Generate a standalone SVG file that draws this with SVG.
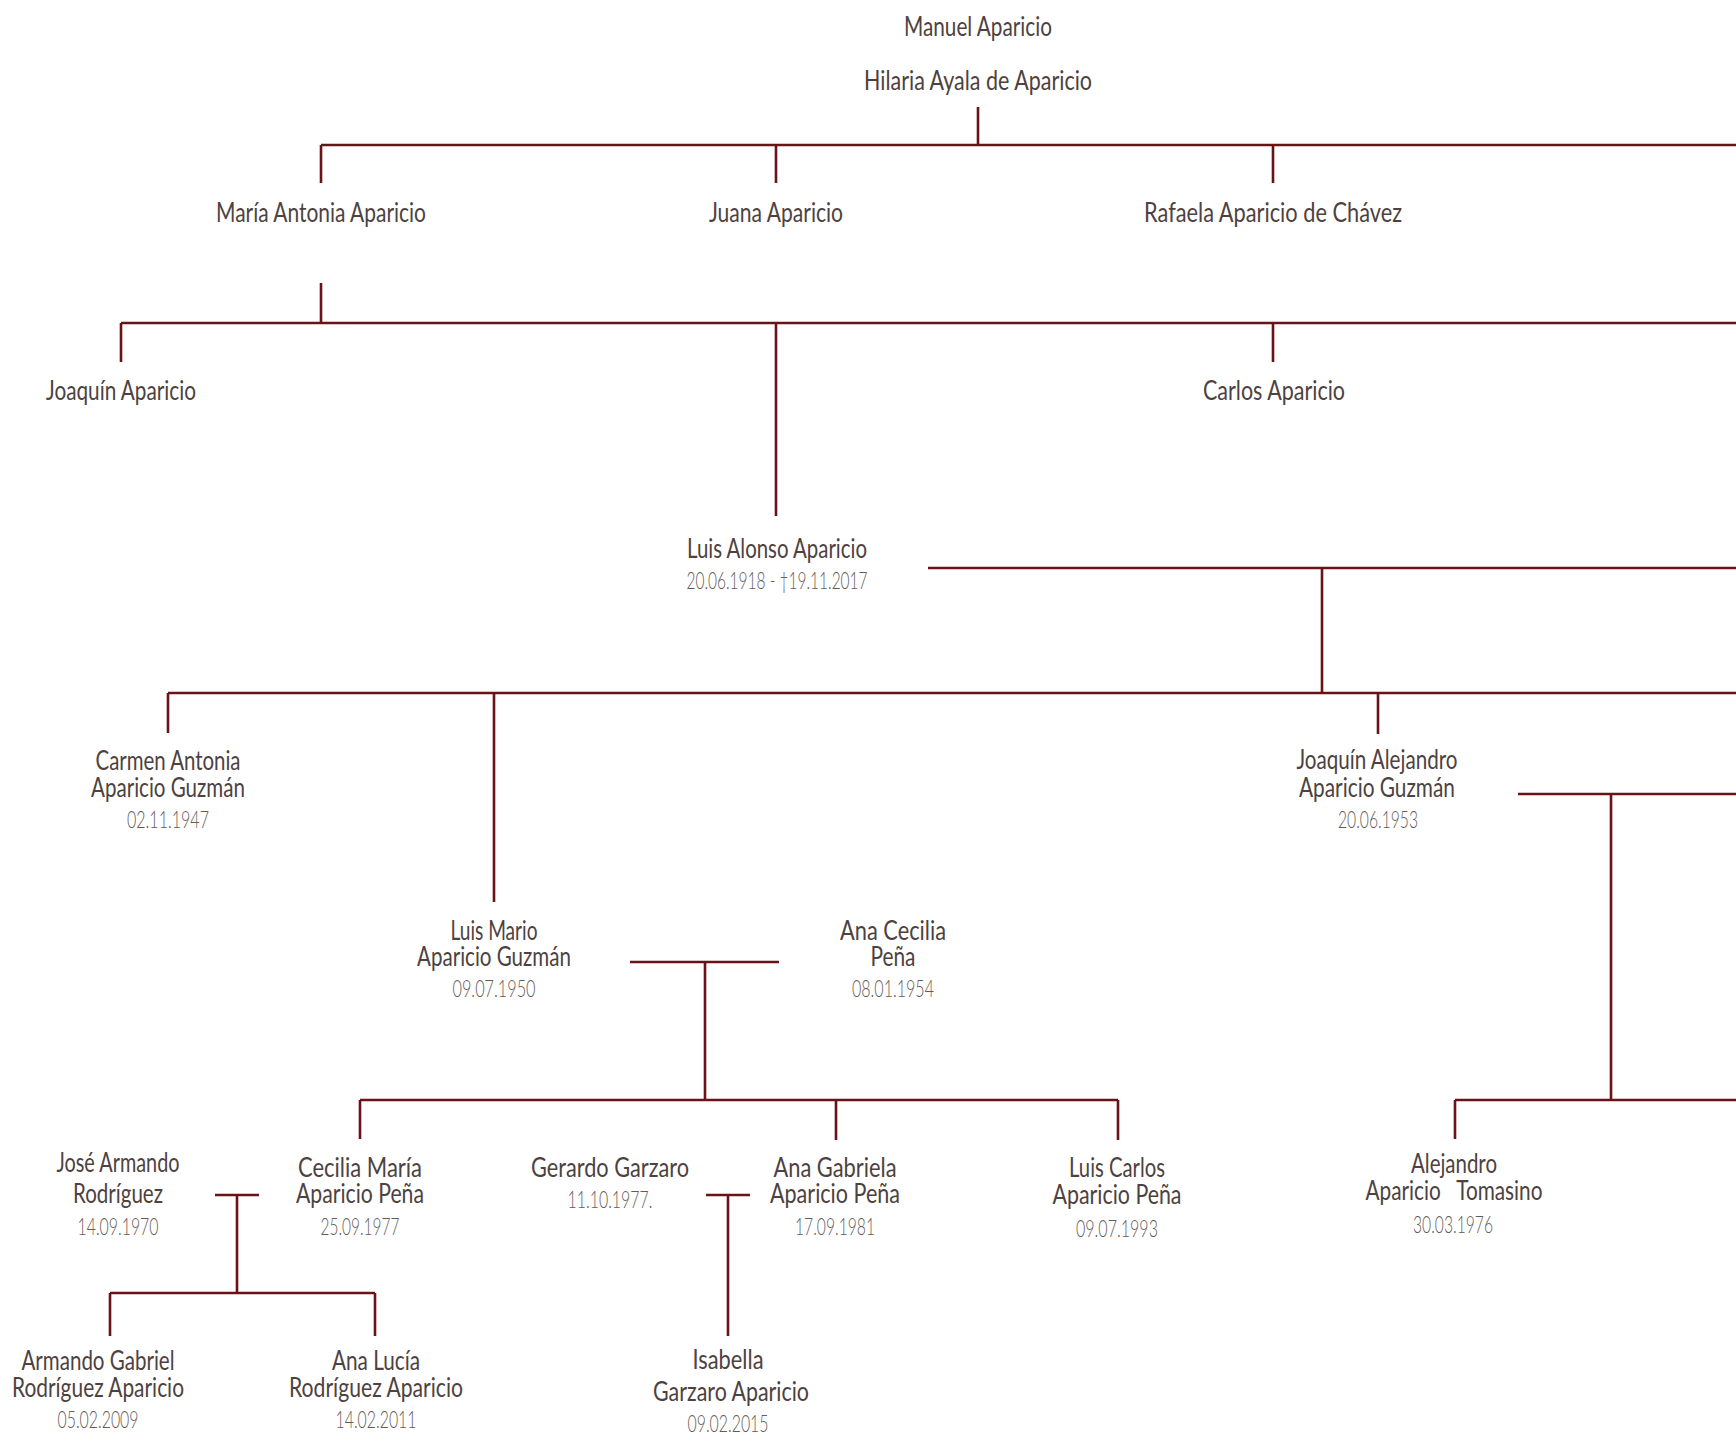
<svg xmlns="http://www.w3.org/2000/svg" width="1736" height="1437" viewBox="0 0 1736 1437">
<style>
.n{font-family:Lato,"Liberation Sans",sans-serif;font-size:26px;fill:#4d4240;text-anchor:middle}
.d{font-family:Lato,"Liberation Sans",sans-serif;font-weight:300;font-size:23px;fill:#665a57;text-anchor:middle}
.c{stroke:#6b1217;stroke-width:2.6;fill:none;stroke-linecap:butt}
</style>
<rect width="1736" height="1437" fill="#ffffff"/>
<g id="connectors" class="c">
<path d="M978 107V145M321 145H1736M321 145V183M776 145V183M1273 145V183"/>
<path d="M321 283V323M121 323H1736M121 323V362M776 323V516M1273 323V362"/>
<path d="M928 568H1736M1322 568V693M168 693H1736M168 693V733M494 693V902M1378 693V734"/>
<path d="M1518 794H1736M1611 794V1100M1455 1100H1736M1455 1100V1139"/>
<path d="M630 962H779M705 962V1100M360 1100H1118M360 1100V1139M836 1100V1140M1118 1100V1140"/>
<path d="M215 1195H259M237 1195V1293M110 1293H375M110 1293V1336M375 1293V1336"/>
<path d="M706 1195H750M728 1195V1336"/>
</g>
<g id="manuel"><text class="n" x="978" y="36" textLength="148" lengthAdjust="spacingAndGlyphs">Manuel Aparicio</text></g>
<g id="hilaria"><text class="n" x="978" y="90" textLength="228" lengthAdjust="spacingAndGlyphs">Hilaria Ayala de Aparicio</text></g>
<g id="maria-antonia"><text class="n" x="321" y="222" textLength="210" lengthAdjust="spacingAndGlyphs">María Antonia Aparicio</text></g>
<g id="juana"><text class="n" x="776" y="222" textLength="134" lengthAdjust="spacingAndGlyphs">Juana Aparicio</text></g>
<g id="rafaela"><text class="n" x="1273" y="222" textLength="258" lengthAdjust="spacingAndGlyphs">Rafaela Aparicio de Chávez</text></g>
<g id="joaquin"><text class="n" x="121" y="400" textLength="150" lengthAdjust="spacingAndGlyphs">Joaquín Aparicio</text></g>
<g id="carlos"><text class="n" x="1274" y="400" textLength="142" lengthAdjust="spacingAndGlyphs">Carlos Aparicio</text></g>
<g id="luis-alonso">
<text class="n" x="777" y="558" textLength="180" lengthAdjust="spacingAndGlyphs">Luis Alonso Aparicio</text>
<text class="d" x="777" y="589" textLength="181" lengthAdjust="spacingAndGlyphs">20.06.1918 - †19.11.2017</text>
</g>
<g id="carmen">
<text class="n" x="168" y="770" textLength="145" lengthAdjust="spacingAndGlyphs">Carmen Antonia</text>
<text class="n" x="168" y="797" textLength="154" lengthAdjust="spacingAndGlyphs">Aparicio Guzmán</text>
<text class="d" x="168" y="828" textLength="82" lengthAdjust="spacingAndGlyphs">02.11.1947</text>
</g>
<g id="joaquin-alejandro">
<text class="n" x="1377" y="769" textLength="161" lengthAdjust="spacingAndGlyphs">Joaquín Alejandro</text>
<text class="n" x="1377" y="797" textLength="156" lengthAdjust="spacingAndGlyphs">Aparicio Guzmán</text>
<text class="d" x="1378" y="828" textLength="80" lengthAdjust="spacingAndGlyphs">20.06.1953</text>
</g>
<g id="luis-mario">
<text class="n" x="494" y="940" textLength="87" lengthAdjust="spacingAndGlyphs">Luis Mario</text>
<text class="n" x="494" y="966" textLength="154" lengthAdjust="spacingAndGlyphs">Aparicio Guzmán</text>
<text class="d" x="494" y="997" textLength="83" lengthAdjust="spacingAndGlyphs">09.07.1950</text>
</g>
<g id="ana-cecilia">
<text class="n" x="893" y="940" textLength="106" lengthAdjust="spacingAndGlyphs">Ana Cecilia</text>
<text class="n" x="893" y="966" textLength="45" lengthAdjust="spacingAndGlyphs">Peña</text>
<text class="d" x="893" y="997" textLength="82" lengthAdjust="spacingAndGlyphs">08.01.1954</text>
</g>
<g id="jose-armando">
<text class="n" x="118" y="1172" textLength="123" lengthAdjust="spacingAndGlyphs">José Armando</text>
<text class="n" x="118" y="1203" textLength="90" lengthAdjust="spacingAndGlyphs">Rodríguez</text>
<text class="d" x="118" y="1235" textLength="81" lengthAdjust="spacingAndGlyphs">14.09.1970</text>
</g>
<g id="cecilia-maria">
<text class="n" x="360" y="1177" textLength="124" lengthAdjust="spacingAndGlyphs">Cecilia María</text>
<text class="n" x="360" y="1203" textLength="128" lengthAdjust="spacingAndGlyphs">Aparicio Peña</text>
<text class="d" x="360" y="1235" textLength="79" lengthAdjust="spacingAndGlyphs">25.09.1977</text>
</g>
<g id="gerardo">
<text class="n" x="610" y="1177" textLength="158" lengthAdjust="spacingAndGlyphs">Gerardo Garzaro</text>
<text class="d" x="610" y="1208" textLength="85" lengthAdjust="spacingAndGlyphs">11.10.1977.</text>
</g>
<g id="ana-gabriela">
<text class="n" x="835" y="1177" textLength="123" lengthAdjust="spacingAndGlyphs">Ana Gabriela</text>
<text class="n" x="835" y="1203" textLength="130" lengthAdjust="spacingAndGlyphs">Aparicio Peña</text>
<text class="d" x="835" y="1235" textLength="80" lengthAdjust="spacingAndGlyphs">17.09.1981</text>
</g>
<g id="luis-carlos">
<text class="n" x="1117" y="1177" textLength="96" lengthAdjust="spacingAndGlyphs">Luis Carlos</text>
<text class="n" x="1117" y="1204" textLength="129" lengthAdjust="spacingAndGlyphs">Aparicio Peña</text>
<text class="d" x="1117" y="1237" textLength="82" lengthAdjust="spacingAndGlyphs">09.07.1993</text>
</g>
<g id="alejandro">
<text class="n" x="1454" y="1173" textLength="86" lengthAdjust="spacingAndGlyphs">Alejandro</text>
<text class="n" x="1454" y="1200" textLength="177" lengthAdjust="spacingAndGlyphs" xml:space="preserve">Aparicio   Tomasino</text>
<text class="d" x="1453" y="1233" textLength="80" lengthAdjust="spacingAndGlyphs">30.03.1976</text>
</g>
<g id="armando-gabriel">
<text class="n" x="98" y="1370" textLength="153" lengthAdjust="spacingAndGlyphs">Armando Gabriel</text>
<text class="n" x="98" y="1397" textLength="172" lengthAdjust="spacingAndGlyphs">Rodríguez Aparicio</text>
<text class="d" x="98" y="1428" textLength="81" lengthAdjust="spacingAndGlyphs">05.02.2009</text>
</g>
<g id="ana-lucia">
<text class="n" x="376" y="1370" textLength="88" lengthAdjust="spacingAndGlyphs">Ana Lucía</text>
<text class="n" x="376" y="1397" textLength="174" lengthAdjust="spacingAndGlyphs">Rodríguez Aparicio</text>
<text class="d" x="376" y="1428" textLength="81" lengthAdjust="spacingAndGlyphs">14.02.2011</text>
</g>
<g id="isabella">
<text class="n" x="728" y="1369" textLength="71" lengthAdjust="spacingAndGlyphs">Isabella</text>
<text class="n" x="731" y="1401" textLength="156" lengthAdjust="spacingAndGlyphs">Garzaro Aparicio</text>
<text class="d" x="728" y="1432" textLength="81" lengthAdjust="spacingAndGlyphs">09.02.2015</text>
</g>
</svg>
